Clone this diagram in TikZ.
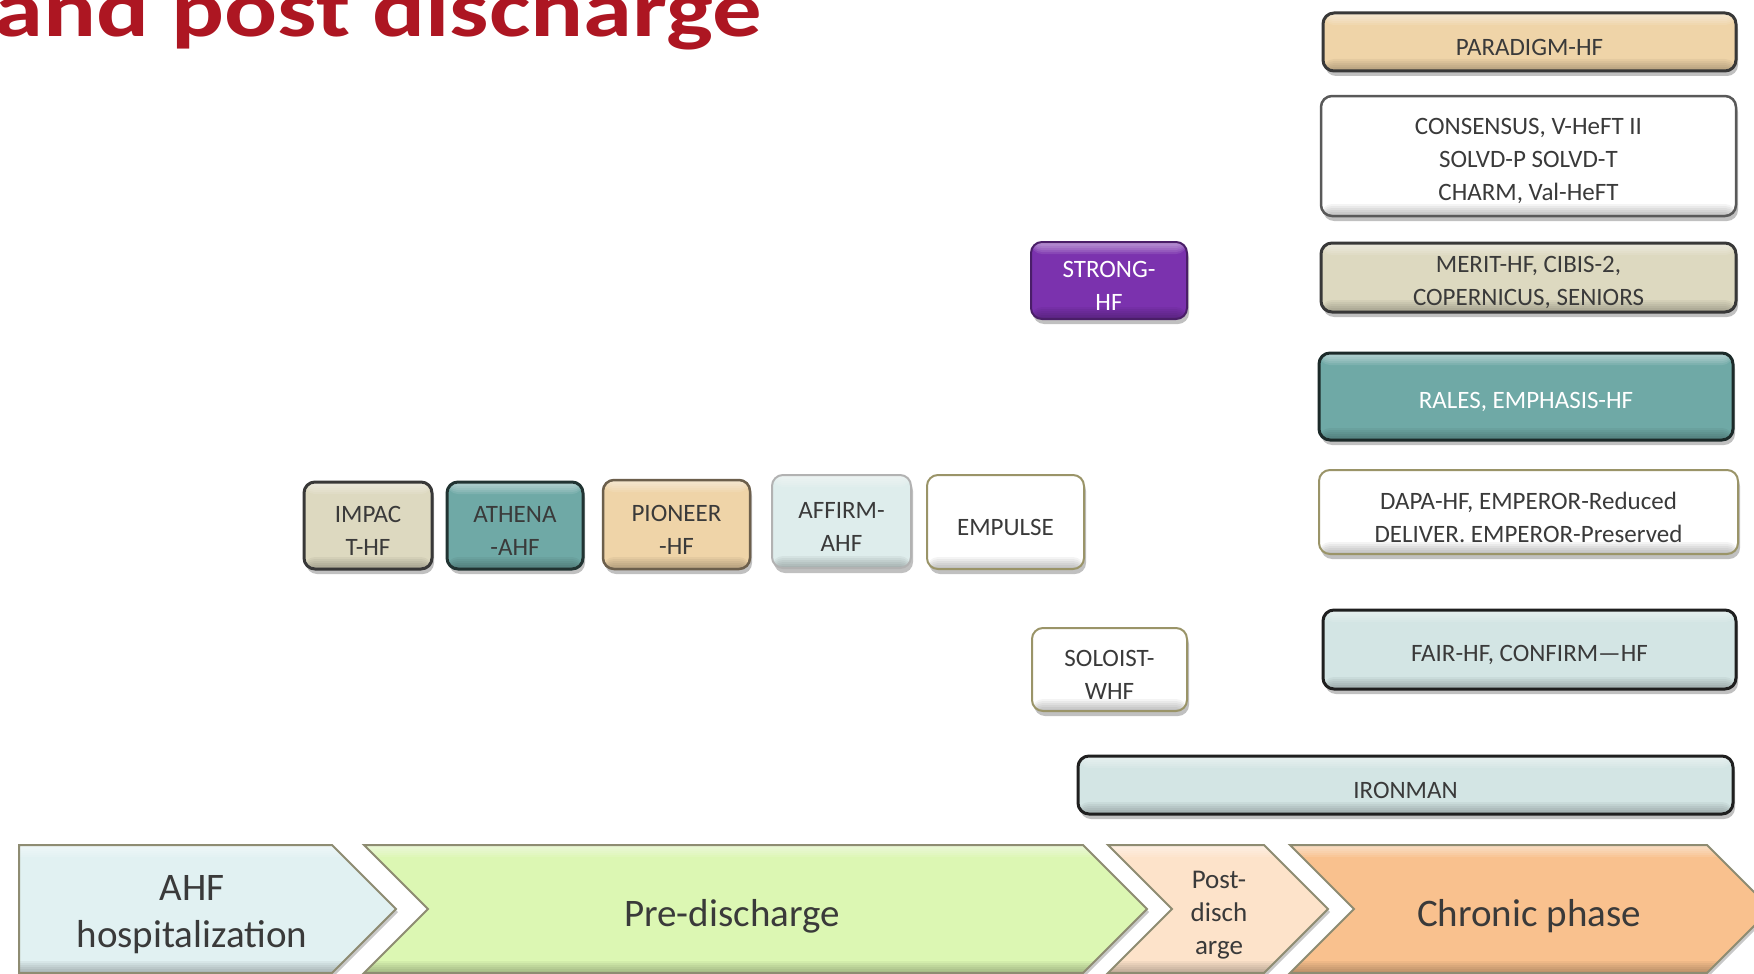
\documentclass[tikz,border=0pt]{standalone}
\usepackage{fontspec}
\setmainfont{Carlito}
\usetikzlibrary{shadows}

\definecolor{titlered}{HTML}{AD1622}
\definecolor{tanbox}{HTML}{EFD4A8}
\definecolor{khaki}{HTML}{DDD9C0}
\definecolor{tealbox}{HTML}{6FA9A6}
\definecolor{paleblue}{HTML}{D3E5E4}
\definecolor{palerblue}{HTML}{DEEDEC}
\definecolor{purplebox}{HTML}{7B32AE}
\definecolor{txt}{HTML}{3A3A3A}
\definecolor{ahfblue}{HTML}{E1F1F2}
\definecolor{pregreen}{HTML}{DCF7B3}
\definecolor{postpeach}{HTML}{FDE3CA}
\definecolor{chronic}{HTML}{F9C18E}
\definecolor{chevedge}{HTML}{8E8C72}
\definecolor{oliveedge}{HTML}{9A9468}

\tikzset{
  % soft highlight along the top edge, soft darkening along the bottom edge
  bevel/.style={path picture={
      \foreach \k in {0,...,5}{
        \fill[white, opacity=0.1]
          (path picture bounding box.north west) rectangle
          ([yshift={-(\k+1)*2pt}]path picture bounding box.north east);
        \fill[black, opacity=0.045]
          (path picture bounding box.south west) rectangle
          ([yshift={(\k+1)*2pt}]path picture bounding box.south east);}}},
  boxtext/.style={text=txt, align=center, inner sep=0pt, yshift=-5pt,
    font=\fontsize{25}{33}\selectfont},
  boxbase/.style={rectangle, rounded corners=11pt, line width=3pt,
    draw=black!78, inner sep=0pt, bevel,
    drop shadow={shadow xshift=2pt, shadow yshift=-5pt,
      opacity=0.35, fill=black!70}},
  trialbox/.style={boxbase,
    label={[boxtext, name=\tikzlastnode-t]center:{#1}}},
  trialboxw/.style={boxbase,
    label={[boxtext, text=white, name=\tikzlastnode-t]center:{#1}}},
  lightedge/.style={draw=oliveedge, line width=2pt},
  phase/.style={draw=chevedge, line width=2pt, bevel,
    drop shadow={shadow xshift=2pt, shadow yshift=-3pt,
      opacity=0.3, fill=black!70}},
  phasetext/.style={text=txt, align=center, inner sep=0pt,
    font=\fontsize{39}{47}\selectfont}
}

\begin{document}
\begin{tikzpicture}[x=1pt, y=-1pt]
\useasboundingbox (0,0) rectangle (1754,974);
\fill[white] (0,0) rectangle (1754,974);

% heading, partly above the top edge
\node[anchor=base west, inner sep=0pt, text=titlered, xscale=1.235,
  font=\bfseries\fontsize{80}{80}\selectfont] (title) at (-6,37) {and post discharge};

% right-hand column of trials
\node[trialbox={PARADIGM-HF}, fill=tanbox, minimum width=413pt, minimum height=58pt]
  (paradigm) at (1529.5,42) {};
\node[trialbox={CONSENSUS, V-HeFT II\\SOLVD-P SOLVD-T\\CHARM, Val-HeFT},
  fill=white, draw=black!65, line width=2.5pt,
  minimum width=415pt, minimum height=120pt]
  (consensus) at (1528.5,156) {};
\node[trialbox={MERIT-HF, CIBIS-2,\\COPERNICUS, SENIORS},
  fill=khaki, minimum width=415pt, minimum height=69pt]
  (merit) at (1528.5,277.5) {};
\node[trialboxw={RALES, EMPHASIS-HF}, fill=tealbox, draw=black!75!tealbox,
  minimum width=414pt, minimum height=87pt]
  (rales) at (1526,396.5) {};
\node[trialbox={DAPA-HF, EMPEROR-Reduced\\DELIVER. EMPEROR-Preserved},
  fill=white, lightedge, minimum width=419pt, minimum height=84pt]
  (dapa) at (1528.5,512) {};
\node[trialbox={FAIR-HF, CONFIRM---HF}, fill=paleblue, draw=black!88,
  minimum width=413pt, minimum height=79pt]
  (fair) at (1529.5,649.5) {};
\node[trialbox={IRONMAN}, fill=paleblue, draw=black!88,
  minimum width=655pt, minimum height=58pt]
  (ironman) at (1405.5,785) {};

% middle trials
\node[trialboxw={STRONG-\\HF}, fill=purplebox, draw=purplebox!60!black, line width=2pt,
  minimum width=156pt, minimum height=77pt]
  (strong) at (1109,280.5) {};
\node[trialbox={SOLOIST-\\WHF}, fill=white, lightedge,
  minimum width=155pt, minimum height=83pt]
  (soloist) at (1109.5,669.5) {};

% in-hospital trials
\node[trialbox={IMPAC\\T-HF}, fill=khaki, minimum width=128pt, minimum height=87pt]
  (impact) at (368,525.5) {};
\node[trialbox={ATHENA\\-AHF}, fill=tealbox, draw=black!70!tealbox,
  minimum width=136pt, minimum height=87pt]
  (athena) at (515,525.5) {};
\node[trialbox={PIONEER\\-HF}, fill=tanbox, draw=black!55!tanbox, line width=2.5pt,
  minimum width=147pt, minimum height=89pt]
  (pioneer) at (676.5,524.5) {};
\node[trialbox={AFFIRM-\\AHF}, fill=palerblue, draw=black!30, line width=2pt,
  minimum width=139pt, minimum height=93pt]
  (affirm) at (841.5,521.5) {};
\node[trialbox={EMPULSE}, fill=white, lightedge, minimum width=157pt, minimum height=94pt]
  (empulse) at (1005.5,522) {};

% phase chevrons along the bottom
\path[phase, fill=ahfblue]
  (19,845) -- (332,845) -- (396,909) -- (332,973) -- (19,973) -- cycle;
\path[phase, fill=pregreen]
  (364,845) -- (1083,845) -- (1147,909) -- (1083,973) -- (364,973) -- (428,909) -- cycle;
\path[phase, fill=postpeach]
  (1108,845) -- (1264,845) -- (1328,909) -- (1264,973) -- (1108,973) -- (1172,909) -- cycle;
\path[phase, fill=chronic]
  (1290,845) -- (1707,845) -- (1771,909) -- (1707,973) -- (1290,973) -- (1354,909) -- cycle;

\node[phasetext] (ahf) at (192,915) {AHF\\hospitalization};
\node[phasetext] (pre) at (732,916) {Pre-discharge};
\node[phasetext, font=\fontsize{27}{33}\selectfont] (post) at (1219,915) {Post-\\disch\\arge};
\node[phasetext] (chron) at (1529,916) {Chronic phase};
\end{tikzpicture}
\end{document}
